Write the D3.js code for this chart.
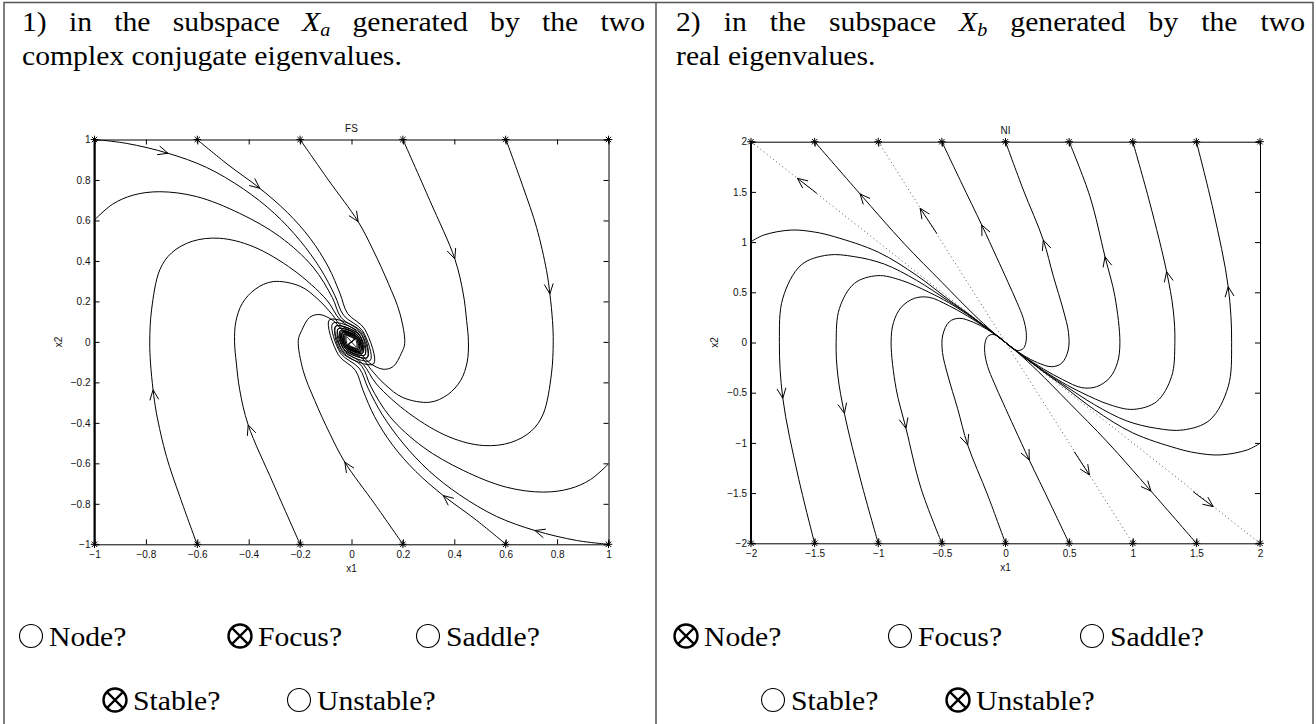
<!DOCTYPE html>
<html>
<head>
<meta charset="utf-8">
<script src="https://cdn.jsdelivr.net/npm/d3@7"></script>
<style>
html,body{margin:0;padding:0;background:#fff;}
svg{display:block;}
</style>
</head>
<body>
<svg id="chart" width="1316" height="724"></svg>
<script>
// ---------------- tick values ----------------
const fsTicks = [-1,-0.8,-0.6,-0.4,-0.2,0,0.2,0.4,0.6,0.8,1];
const niTicks = [-2,-1.5,-1,-0.5,0,0.5,1,1.5,2];

// ---------------- start markers (stars) ----------------
const fsStarX = [-1,-0.6,-0.2,0.2,0.6,1];
const fsStarY = [1,-1];
const niStarX = [-2,-1.5,-1,-0.5,0,0.5,1,1.5,2];
const niStarY = [2,-2];

// ---------------- FS: last turns of each spiral near the origin ----------------
const tailUL1 = [[0.051,0.064],[0.086,-0.109],[-0.039,-0.051],[-0.061,0.077],[0.029,0.036],[0.039,-0.051],[-0.018,-0.022],[0,0]];
const tailUL2 = [[0.043,0.055],[0.073,-0.092],[-0.034,-0.043],[-0.052,0.065],[0.025,0.031],[0.034,-0.043],[-0.016,-0.020],[0,0]];
const tailUL3 = [[0.036,0.046],[0.062,-0.078],[-0.029,-0.036],[-0.044,0.056],[0.021,0.026],[0.029,-0.036],[-0.013,-0.016],[0,0]];
const tailUL4 = [[0.030,0.038],[0.052,-0.065],[-0.023,-0.030],[-0.036,0.047],[0.017,0.022],[0.023,-0.030],[-0.010,-0.013],[0,0]];
const tailUL5 = [[0.025,0.031],[0.043,-0.055],[-0.020,-0.025],[-0.030,0.039],[0.014,0.018],[0.020,-0.025],[0,0]];
const tailUL6 = [[0.021,0.027],[0.036,-0.046],[-0.017,-0.021],[-0.026,0.033],[0.012,0.016],[0,0]];
const tailLR1 = [[-0.051,-0.064],[-0.086,0.109],[0.039,0.051],[0.061,-0.077],[-0.029,-0.036],[-0.039,0.051],[0.018,0.022],[0,0]];
const tailLR2 = [[-0.043,-0.055],[-0.073,0.092],[0.034,0.043],[0.052,-0.065],[-0.025,-0.031],[-0.034,0.043],[0.016,0.020],[0,0]];
const tailLR3 = [[-0.036,-0.046],[-0.062,0.078],[0.029,0.036],[0.044,-0.056],[-0.021,-0.026],[-0.029,0.036],[0.013,0.016],[0,0]];
const tailLR4 = [[-0.030,-0.038],[-0.052,0.065],[0.023,0.030],[0.036,-0.047],[-0.017,-0.022],[-0.023,0.030],[0.010,0.013],[0,0]];
const tailLR5 = [[-0.025,-0.031],[-0.043,0.055],[0.020,0.025],[0.030,-0.039],[-0.014,-0.018],[-0.020,0.025],[0,0]];
const tailLR6 = [[-0.021,-0.027],[-0.036,0.046],[0.017,0.021],[0.026,-0.033],[-0.012,-0.016],[0,0]];

// ---------------- FS trajectories (x1, x2) ----------------
const fsA  = [[-1,1],[-0.876,0.981],[-0.714,0.932],[-0.564,0.862],[-0.42,0.755],[-0.30,0.635],[-0.20,0.50],[-0.12,0.36],[-0.065,0.23],[-0.03,0.13]].concat(tailUL2);
const fsB  = [[-0.601,1],[-0.48,0.875],[-0.357,0.759],[-0.25,0.64],[-0.16,0.51],[-0.09,0.37],[-0.045,0.24],[-0.015,0.14]].concat(tailUL1);
const fsC  = [[-0.2,1],[-0.09,0.80],[0.026,0.594],[0.084,0.454],[0.143,0.29],[0.188,0.142],[0.207,-0.007],[0.194,-0.056],[0.162,-0.122],[0.123,-0.135],[0.071,-0.105],[0.032,-0.056]].concat(tailLR6);
const fsD  = [[0.2,1],[0.305,0.698],[0.402,0.41],[0.435,0.237],[0.448,0.105],[0.455,0.0],[0.45,-0.1],[0.425,-0.19],[0.375,-0.26],[0.305,-0.298],[0.2,-0.275],[0.13,-0.21],[0.075,-0.135],[0.045,-0.085]].concat(tailLR5);
const fsE  = [[0.601,1],[0.668,0.764],[0.72,0.566],[0.759,0.352],[0.772,0.237],[0.782,0.105],[0.785,0.0],[0.778,-0.158],[0.746,-0.356],[0.7,-0.44],[0.62,-0.497],[0.513,-0.512],[0.383,-0.471],[0.227,-0.356],[0.097,-0.208],[0.045,-0.11]].concat(tailLR4);
const fsF  = [[1,-0.6025],[0.93,-0.68],[0.85,-0.725],[0.746,-0.742],[0.603,-0.718],[0.435,-0.635],[0.279,-0.52],[0.15,-0.37],[0.075,-0.22],[0.04,-0.12]].concat(tailLR3);
const fsA2 = [[1,-1],[0.876,-0.981],[0.714,-0.932],[0.564,-0.862],[0.42,-0.755],[0.30,-0.635],[0.20,-0.50],[0.12,-0.36],[0.065,-0.23],[0.03,-0.13]].concat(tailLR2);
const fsB2 = [[0.601,-1],[0.48,-0.875],[0.357,-0.759],[0.25,-0.64],[0.16,-0.51],[0.09,-0.37],[0.045,-0.24],[0.015,-0.14]].concat(tailLR1);
const fsC2 = [[0.2,-1],[0.09,-0.80],[-0.026,-0.594],[-0.084,-0.454],[-0.143,-0.29],[-0.188,-0.142],[-0.207,0.007],[-0.194,0.056],[-0.162,0.122],[-0.123,0.135],[-0.071,0.105],[-0.032,0.056]].concat(tailUL6);
const fsD2 = [[-0.2,-1],[-0.305,-0.698],[-0.402,-0.41],[-0.435,-0.237],[-0.448,-0.105],[-0.455,0.0],[-0.45,0.1],[-0.425,0.19],[-0.375,0.26],[-0.305,0.298],[-0.2,0.275],[-0.13,0.21],[-0.075,0.135],[-0.045,0.085]].concat(tailUL5);
const fsE2 = [[-0.601,-1],[-0.668,-0.764],[-0.72,-0.566],[-0.759,-0.352],[-0.772,-0.237],[-0.782,-0.105],[-0.785,0.0],[-0.778,0.158],[-0.746,0.356],[-0.7,0.44],[-0.62,0.497],[-0.513,0.512],[-0.383,0.471],[-0.227,0.356],[-0.097,0.208],[-0.045,0.11]].concat(tailUL4);
const fsF2 = [[-1,0.6025],[-0.93,0.68],[-0.85,0.725],[-0.746,0.742],[-0.603,0.718],[-0.435,0.635],[-0.279,0.52],[-0.15,0.37],[-0.075,0.22],[-0.04,0.12]].concat(tailUL3);
const fsCurves = [fsA,fsB,fsC,fsD,fsE,fsF,fsA2,fsB2,fsC2,fsD2,fsE2,fsF2];
// arrows: [curve, point index, direction along index]
const fsArrows = [[0,2,1],[1,2,1],[2,2,1],[3,2,1],[4,4,1],[6,2,1],[7,2,1],[8,2,1],[9,2,1],[10,4,1]];

// ---------------- NI trajectories ----------------
const niR1 = [[-0.5,2],[-0.35,1.6],[-0.187,1.171],[-0.07,0.85],[0.02,0.6],[0.09,0.4],[0.14,0.24],[0.163,0.1],[0.16,0.0],[0.14,-0.06],[0.1,-0.08],[0.05,-0.055],[0,0]];
const niR2 = [[0,2],[0.14,1.52],[0.297,1.021],[0.376,0.66],[0.454,0.324],[0.495,0.1],[0.493,-0.075],[0.441,-0.207],[0.362,-0.241],[0.25,-0.2],[0.15,-0.135],[0.06,-0.058],[0,0]];
const niR3 = [[0.5,2],[0.664,1.453],[0.782,0.855],[0.86,0.457],[0.899,0.0],[0.88,-0.2],[0.82,-0.35],[0.716,-0.44],[0.6,-0.45],[0.45,-0.37],[0.3,-0.265],[0.15,-0.142],[0.06,-0.059],[0,0]];
const niR4 = [[1,2],[1.135,1.386],[1.266,0.706],[1.318,0.324],[1.331,0.0],[1.305,-0.34],[1.187,-0.589],[1.004,-0.666],[0.82,-0.62],[0.6,-0.5],[0.45,-0.4],[0.3,-0.28],[0.15,-0.146],[0.06,-0.06],[0,0]];
const niR5 = [[1.5,2],[1.632,1.32],[1.75,0.556],[1.777,0.0],[1.75,-0.44],[1.606,-0.772],[1.397,-0.871],[1.187,-0.855],[0.95,-0.78],[0.7,-0.62],[0.45,-0.415],[0.3,-0.288],[0.15,-0.148],[0.06,-0.06],[0,0]];
const niR6 = [[2,-1.004],[1.9,-1.07],[1.685,-1.12],[1.5,-1.1],[1.345,-1.054],[1.0,-0.9],[0.7,-0.67],[0.45,-0.43],[0.3,-0.293],[0.15,-0.149],[0.06,-0.06],[0,0]];
const niL1 = [[-1.5,2],[-1.143,1.48],[-0.8,0.99],[-0.5,0.6],[-0.25,0.28],[-0.1,0.105],[0,0]];
const niR1b = [[0.5,-2],[0.35,-1.6],[0.187,-1.171],[0.07,-0.85],[-0.02,-0.6],[-0.09,-0.4],[-0.14,-0.24],[-0.163,-0.1],[-0.16,0.0],[-0.14,0.06],[-0.1,0.08],[-0.05,0.055],[0,0]];
const niR2b = [[0,-2],[-0.14,-1.52],[-0.297,-1.021],[-0.376,-0.66],[-0.454,-0.324],[-0.495,-0.1],[-0.493,0.075],[-0.441,0.207],[-0.362,0.241],[-0.25,0.2],[-0.15,0.135],[-0.06,0.058],[0,0]];
const niR3b = [[-0.5,-2],[-0.664,-1.453],[-0.782,-0.855],[-0.86,-0.457],[-0.899,0.0],[-0.88,0.2],[-0.82,0.35],[-0.716,0.44],[-0.6,0.45],[-0.45,0.37],[-0.3,0.265],[-0.15,0.142],[-0.06,0.059],[0,0]];
const niR4b = [[-1,-2],[-1.135,-1.386],[-1.266,-0.706],[-1.318,-0.324],[-1.331,0.0],[-1.305,0.34],[-1.187,0.589],[-1.004,0.666],[-0.82,0.62],[-0.6,0.5],[-0.45,0.4],[-0.3,0.28],[-0.15,0.146],[-0.06,0.06],[0,0]];
const niR5b = [[-1.5,-2],[-1.632,-1.32],[-1.75,-0.556],[-1.777,0.0],[-1.75,0.44],[-1.606,0.772],[-1.397,0.871],[-1.187,0.855],[-0.95,0.78],[-0.7,0.62],[-0.45,0.415],[-0.3,0.288],[-0.15,0.148],[-0.06,0.06],[0,0]];
const niR6b = [[-2,1.004],[-1.9,1.07],[-1.685,1.12],[-1.5,1.1],[-1.345,1.054],[-1.0,0.9],[-0.7,0.67],[-0.45,0.43],[-0.3,0.293],[-0.15,0.149],[-0.06,0.06],[0,0]];
const niL1b = [[1.5,-2],[1.143,-1.48],[0.8,-0.99],[0.5,-0.6],[0.25,-0.28],[0.1,-0.105],[0,0]];
const niCurves = [niR1,niR2,niR3,niR4,niR5,niR6,niL1,niR1b,niR2b,niR3b,niR4b,niR5b,niR6b,niL1b];
const niArrows = [[0,2,-1],[1,2,-1],[2,2,-1],[3,2,-1],[4,2,-1],[6,1,-1],[7,2,-1],[8,2,-1],[9,2,-1],[10,2,-1],[11,2,-1],[13,1,-1]];
// eigenvector directions (dotted)
const niDot1 = [[-2,2],[2,-2]];
const niDot2 = [[-1,2],[1,-2]];
// arrows on the dotted lines: [tail x, tail y, tip x, tip y]
const niDotArrows = [[-1.483,1.486,-1.635,1.635],[1.475,-1.486,1.632,-1.635],[-0.54,1.087,-0.671,1.337],[0.54,-1.087,0.66,-1.32]];

// ---------------- texts ----------------
const head1 = ["1) in the subspace ", "a", " generated by the two", "complex conjugate eigenvalues."];
const head2 = ["2) in the subspace ", "b", " generated by the two", "real eigenvalues."];
const optLabels = ["Node?","Focus?","Saddle?","Stable?","Unstable?"];
const optChecked1 = [false,true,false,true,false];
const optChecked2 = [true,false,false,false,true];

// =====================================================
const svg = d3.select("#chart");
const serif = "'Liberation Serif','DejaVu Serif',serif";
const sans = "'Liberation Sans',Arial,Helvetica,sans-serif";
const SX = 1.06, FS = 28;

// frame
svg.append("path")
  .attr("d","M4,724V2.5H1313V724M656,2.5V724")
  .attr("fill","none").attr("stroke","#555").attr("stroke-width",1.5);

function header(x0, x1, parts){
  const t = svg.append("text").attr("transform",`translate(${x0},31) scale(${SX},1)`)
    .attr("font-family",serif).attr("font-size",FS).attr("fill","#000")
    .style("white-space","pre");
  t.append("tspan").text(parts[0]);
  t.append("tspan").attr("font-style","italic").text("X");
  t.append("tspan").attr("font-style","italic").attr("font-size",19).attr("dy",5).text(parts[1]);
  t.append("tspan").attr("dy",-5).text(parts[2]);
  const nat = t.node().getComputedTextLength();
  const nsp = (parts[0]+parts[2]).split(" ").length-1;
  t.attr("word-spacing",((x1-x0)/SX-nat)/nsp);
  svg.append("text").attr("transform",`translate(${x0},65) scale(${SX},1)`)
    .attr("font-family",serif).attr("font-size",FS).attr("fill","#000").text(parts[3]);
}
header(22,645,head1);
header(676,1305,head2);

function star(g,x,y){
  const r=3.8,d=2.7;
  g.append("path")
   .attr("d",`M${x-r},${y}H${x+r}M${x},${y-r}V${y+r}M${x-d},${y-d}L${x+d},${y+d}M${x-d},${y+d}L${x+d},${y-d}`)
   .attr("stroke","#000").attr("stroke-width",1).attr("fill","none");
}
function arrowHead(g,tx,ty,ang){
  const L=11,a=0.42;
  const p1=[tx-L*Math.cos(ang-a),ty-L*Math.sin(ang-a)];
  const p2=[tx-L*Math.cos(ang+a),ty-L*Math.sin(ang+a)];
  g.append("path").attr("d",`M${p1[0]},${p1[1]}L${tx},${ty}L${p2[0]},${p2[1]}`)
   .attr("fill","none").attr("stroke","#000").attr("stroke-width",1);
}

function panel(o){
  const xs=d3.scaleLinear().domain(o.xdom).range([o.left,o.right]);
  const ys=d3.scaleLinear().domain(o.ydom).range([o.bottom,o.top]);
  const g=svg.append("g");
  svg.append("clipPath").attr("id",o.id).append("rect")
    .attr("x",o.left).attr("y",o.top).attr("width",o.right-o.left).attr("height",o.bottom-o.top);
  const cg=g.append("g").attr("clip-path",`url(#${o.id})`);
  const line=d3.line().x(d=>xs(d[0])).y(d=>ys(d[1])).curve(d3.curveCatmullRom.alpha(0.5));
  const lin=d3.line().x(d=>xs(d[0])).y(d=>ys(d[1]));
  (o.dotted||[]).forEach(c=>cg.append("path").attr("d",lin(c)).attr("fill","none")
     .attr("stroke","#555").attr("stroke-width",1).attr("stroke-dasharray","1,3"));
  o.curves.forEach(c=>cg.append("path").attr("d",line(c)).attr("fill","none")
     .attr("stroke","#000").attr("stroke-width",1));
  o.arrows.forEach(([ci,pi,dir])=>{
    const c=o.curves[ci];
    const a=c[pi-1],b=c[pi+1],p=c[pi];
    const dx=(xs(b[0])-xs(a[0]))*dir, dy=(ys(b[1])-ys(a[1]))*dir;
    arrowHead(g,xs(p[0]),ys(p[1]),Math.atan2(dy,dx));
  });
  (o.dotArrows||[]).forEach(([x0,y0,x1,y1])=>{
    g.append("path").attr("d",`M${xs(x0)},${ys(y0)}L${xs(x1)},${ys(y1)}`)
      .attr("stroke","#000").attr("stroke-width",1);
    arrowHead(g,xs(x1),ys(y1),Math.atan2(ys(y1)-ys(y0),xs(x1)-xs(x0)));
  });
  // axes (ticks inward, box on)
  const fmt=d3.format("");
  const ax=[
    [d3.axisBottom(xs).tickValues(o.ticksX).tickSize(-5).tickSizeOuter(0).tickPadding(7).tickFormat(fmt),`translate(0,${o.bottom})`],
    [d3.axisTop(xs).tickValues(o.ticksX).tickSize(-5).tickSizeOuter(0).tickFormat(""),`translate(0,${o.top})`],
    [d3.axisLeft(ys).tickValues(o.ticksY).tickSize(-5).tickSizeOuter(0).tickPadding(4).tickFormat(fmt),`translate(${o.left},0)`],
    [d3.axisRight(ys).tickValues(o.ticksY).tickSize(-5).tickSizeOuter(0).tickFormat(""),`translate(${o.right},0)`]
  ];
  ax.forEach(([a,tr])=>{
    const ag=g.append("g").attr("transform",tr).call(a);
    ag.attr("font-family",sans).attr("font-size",10);
    ag.selectAll("text").attr("fill","#111");
    ag.selectAll("line").attr("stroke","#000");
    ag.select(".domain").attr("stroke","#000");
  });
  g.append("line").attr("x1",o.left).attr("x2",o.left).attr("y1",o.top).attr("y2",o.bottom)
    .attr("stroke","#000").attr("stroke-width",2);
  // stars
  o.starX.forEach(x=>o.starY.forEach(y=>star(g,xs(x),ys(y))));
  // labels
  g.append("text").attr("x",(o.left+o.right)/2).attr("y",o.bottom+28).attr("text-anchor","middle")
    .attr("font-family",sans).attr("font-size",10).attr("fill","#111").text("x1");
  g.append("text").attr("transform",`translate(${o.left-33},${ys(0)}) rotate(-90)`).attr("text-anchor","middle")
    .attr("font-family",sans).attr("font-size",10).attr("fill","#111").text("x2");
  g.append("text").attr("x",(o.left+o.right)/2).attr("y",o.top-8).attr("text-anchor","middle")
    .attr("font-family",sans).attr("font-size",10).attr("fill","#111").text(o.title);
}

panel({id:"clipFS",xdom:[-1,1],ydom:[-1,1],left:94.5,right:608.5,top:139.5,bottom:544.3,
  curves:fsCurves,arrows:fsArrows,ticksX:fsTicks,ticksY:fsTicks,starX:fsStarX,starY:fsStarY,title:"FS"});
panel({id:"clipNI",xdom:[-2,2],ydom:[-2,2],left:751,right:1260,top:141.7,bottom:543.3,
  curves:niCurves,arrows:niArrows,dotted:[niDot1,niDot2],dotArrows:niDotArrows,
  ticksX:niTicks,ticksY:niTicks,starX:niStarX,starY:niStarY,title:"NI"});

// answer options
function option(cx,cy,checked,label){
  const r=11.5;
  svg.append("circle").attr("cx",cx).attr("cy",cy).attr("r",r).attr("fill","none")
    .attr("stroke","#000").attr("stroke-width",checked?2.4:1.1);
  if(checked){
    const d=r*0.707;
    svg.append("path").attr("d",`M${cx-d},${cy-d}L${cx+d},${cy+d}M${cx-d},${cy+d}L${cx+d},${cy-d}`)
      .attr("stroke","#000").attr("stroke-width",2.2);
  }
  svg.append("text").attr("transform",`translate(${cx+18},${cy+10}) scale(${SX},1)`).attr("font-family",serif)
    .attr("font-size",FS).attr("fill","#000").text(label);
}
const optPos1=[[31,636],[240,636],[428,636],[115,700],[299,700]];
const optPos2=[[686,636],[900,636],[1092,636],[773,700],[958,700]];
optLabels.forEach((l,i)=>option(optPos1[i][0],optPos1[i][1],optChecked1[i],l));
optLabels.forEach((l,i)=>option(optPos2[i][0],optPos2[i][1],optChecked2[i],l));
</script>
</body>
</html>
